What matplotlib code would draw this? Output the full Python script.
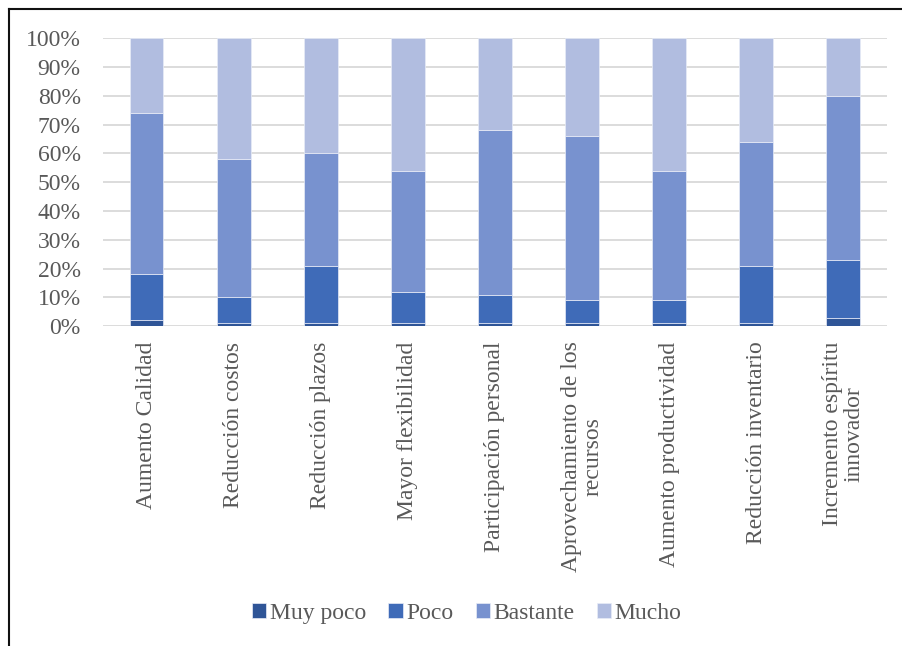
import matplotlib.pyplot as plt
import numpy as np
from matplotlib.lines import Line2D

# datos (porcentajes por categoria)
categorias = ['Aumento Calidad', 'Reducción costos', 'Reducción plazos',
              'Mayor flexibilidad', 'Participación personal',
              'Aprovechamiento de los\nrecursos', 'Aumento productividad',
              'Reducción inventario', 'Incremento espíritu\ninnovador']
muy_poco = [2, 1, 1, 1, 1, 1, 1, 1, 3]
poco = [16, 9, 20, 11, 10, 8, 8, 20, 20]
bastante = [56, 48, 39, 42, 57, 57, 45, 43, 57]
mucho = [26, 42, 40, 46, 32, 34, 46, 36, 20]
series = ['Muy poco', 'Poco', 'Bastante', 'Mucho']
colores = ['#2F5597', '#3F6BB8', '#7892CF', '#B1BDE0']

plt.rcParams['font.family'] = ['Liberation Serif', 'DejaVu Serif']
gris = '#595959'

fig = plt.figure(figsize=(9.03, 6.46), dpi=100)
ax = fig.add_axes([0.114, 0.495, 0.868, 0.446])

x = np.arange(len(categorias))
abajo = np.zeros(len(categorias))
for nombre, vals, col in zip(series, [muy_poco, poco, bastante, mucho], colores):
    vals = np.array(vals) / 100.0
    ax.bar(x, vals, width=0.39, bottom=abajo, color=col, label=nombre,
           edgecolor='#E8ECF7', linewidth=0.5, zorder=3)
    abajo += vals

ax.set_xlim(-0.5, len(categorias) - 0.5)
ax.set_ylim(0, 1)
ax.set_yticks(np.linspace(0, 1, 11))
ax.set_yticklabels(['%d%%' % v for v in range(0, 101, 10)])
ax.yaxis.grid(True, color='#D9D9D9', linewidth=1.3, zorder=0)
ax.set_axisbelow(True)
for s in ax.spines.values():
    s.set_visible(False)
ax.tick_params(axis='y', length=0, pad=16, labelsize=17, labelcolor=gris)
ax.tick_params(axis='x', length=0, pad=11, labelsize=17, labelcolor=gris)
ax.set_xticks(x)
ax.set_xticklabels(categorias, rotation=90, va='top', ha='center',
                   multialignment='center', linespacing=1.05)

leg = fig.legend(loc='center', bbox_to_anchor=(0.517, 0.051), ncol=4,
                 frameon=False, prop={'family': 'Liberation Serif', 'size': 17},
                 handlelength=0.6, handleheight=0.6, handletextpad=0.15,
                 columnspacing=0.95)
for t in leg.get_texts():
    t.set_color(gris)

# borde del recuadro (izquierda y arriba)
fig.add_artist(Line2D([8.5 / 903, 8.5 / 903], [0, 1 - 8.5 / 646],
                      transform=fig.transFigure, color='#111111', lw=1.5))
fig.add_artist(Line2D([8.5 / 903, 1], [1 - 8.5 / 646, 1 - 8.5 / 646],
                      transform=fig.transFigure, color='#111111', lw=1.5))

fig.savefig('out.png', dpi=100)
